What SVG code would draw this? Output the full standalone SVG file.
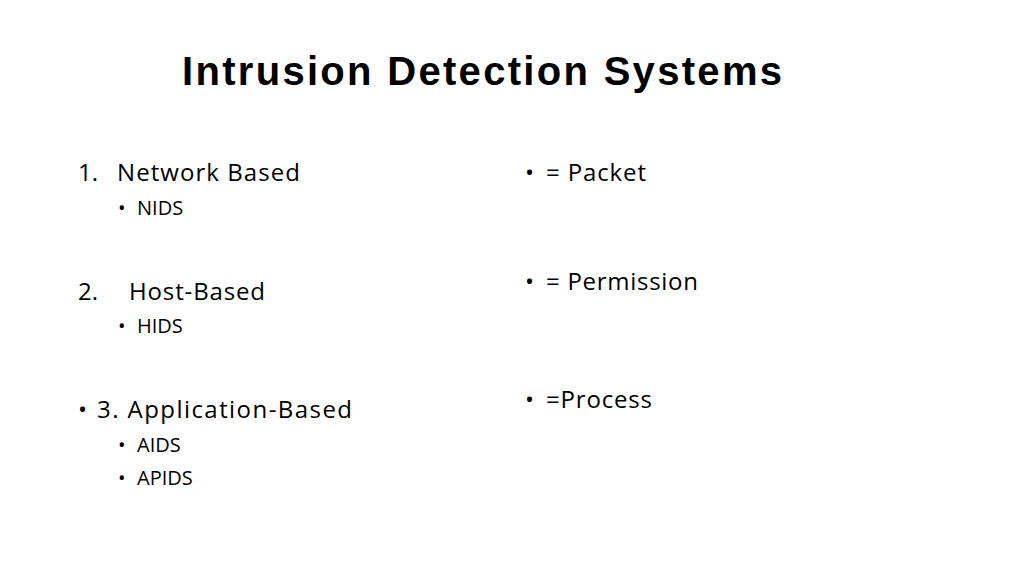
<svg xmlns="http://www.w3.org/2000/svg" width="1024" height="576" viewBox="0 0 1024 576">
<style>
.t{font-family:"Open Sans","Liberation Sans",sans-serif;fill:#000}
.l{font-size:24px}
.s{font-size:20px}
</style>
<rect width="1024" height="576" fill="#fff"/>
<text x="182" y="85" font-family="Liberation Sans, Arial, sans-serif" font-weight="bold" font-size="40" textLength="600">Intrusion Detection Systems</text>
<g id="left">
<text class="t l" x="78" y="181">1.</text><text class="t l" x="117" y="181" textLength="183">Network Based</text>
<text class="t s" x="118" y="215">•</text><text class="t s" x="137" y="215">NIDS</text>
<text class="t l" x="78" y="300">2.</text><text class="t l" x="129" y="300" textLength="136">Host-Based</text>
<text class="t s" x="118" y="333">•</text><text class="t s" x="137" y="333">HIDS</text>
<text class="t l" x="78" y="418">•</text><text class="t l" x="97" y="418" textLength="255">3.  Application-Based</text>
<text class="t s" x="118" y="452">•</text><text class="t s" x="137" y="452">AIDS</text>
<text class="t s" x="118" y="485">•</text><text class="t s" x="137" y="485">APIDS</text>
</g>
<g id="right">
<text class="t l" x="525" y="181">•</text><text class="t l" x="546" y="181" textLength="100">= Packet</text>
<text class="t l" x="525" y="290">•</text><text class="t l" x="546" y="290" textLength="152">= Permission</text>
<text class="t l" x="525" y="408">•</text><text class="t l" x="546" y="408" textLength="106">=Process</text>
</g>
</svg>
